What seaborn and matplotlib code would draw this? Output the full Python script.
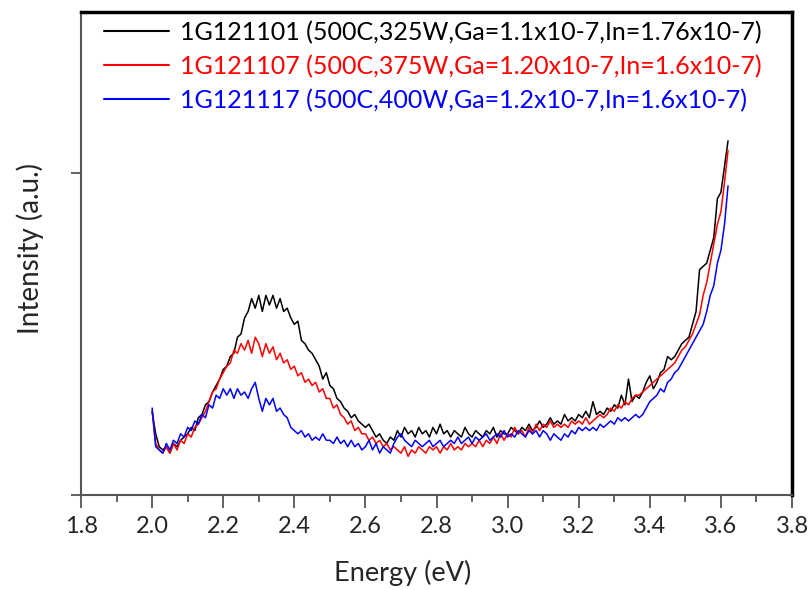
import numpy as np
import pandas as pd
import matplotlib
matplotlib.use("Agg")
import matplotlib.pyplot as plt
from matplotlib.ticker import MultipleLocator
import seaborn as sns

# Energy grid (eV), 2.00 .. 3.62 in 0.01 steps
energy = [round(2.00 + 0.01 * i, 2) for i in range(163)]

labels = [
    "1G121101 (500C,325W,Ga=1.1x10-7,In=1.76x10-7)",
    "1G121107 (500C,375W,Ga=1.20x10-7,In=1.6x10-7)",
    "1G121117 (500C,400W,Ga=1.2x10-7,In=1.6x10-7)",
]
colors = ["#000000", "#ff0000", "#0000ff"]

black = [
    0.26, 0.19, 0.15, 0.14, 0.15, 0.13, 0.16, 0.15, 0.17, 0.18,
    0.19, 0.21, 0.20, 0.24, 0.25, 0.28, 0.29, 0.32, 0.34, 0.36,
    0.39, 0.40, 0.43, 0.44, 0.49, 0.50, 0.55, 0.57, 0.61, 0.58,
    0.62, 0.57, 0.62, 0.59, 0.62, 0.58, 0.61, 0.57, 0.58, 0.55,
    0.53, 0.54, 0.48, 0.47, 0.45, 0.44, 0.42, 0.40, 0.36, 0.38,
    0.34, 0.33, 0.30, 0.29, 0.27, 0.26, 0.24, 0.25, 0.23, 0.22,
    0.21, 0.22, 0.20, 0.18, 0.19, 0.17, 0.16, 0.18, 0.17, 0.20,
    0.18, 0.21, 0.19, 0.20, 0.18, 0.21, 0.19, 0.20, 0.18, 0.21,
    0.19, 0.22, 0.19, 0.20, 0.18, 0.20, 0.19, 0.18, 0.21, 0.19,
    0.18, 0.20, 0.19, 0.18, 0.20, 0.19, 0.21, 0.18, 0.20, 0.19,
    0.19, 0.21, 0.20, 0.19, 0.21, 0.20, 0.22, 0.20, 0.21, 0.23,
    0.21, 0.22, 0.24, 0.22, 0.23, 0.22, 0.25, 0.23, 0.24, 0.23,
    0.25, 0.24, 0.26, 0.24, 0.29, 0.25, 0.26, 0.25, 0.27, 0.26,
    0.28, 0.27, 0.31, 0.28, 0.36, 0.29, 0.31, 0.30, 0.32, 0.35,
    0.37, 0.33, 0.35, 0.38, 0.39, 0.43, 0.42, 0.43, 0.45, 0.47,
    0.48, 0.49, 0.53, 0.57, 0.70, 0.71, 0.72, 0.76, 0.80, 0.92,
    0.94, 1.02, 1.10,
]

red = [
    0.26, 0.16, 0.14, 0.13, 0.15, 0.13, 0.16, 0.14, 0.17, 0.16,
    0.19, 0.18, 0.21, 0.22, 0.24, 0.26, 0.29, 0.32, 0.33, 0.36,
    0.38, 0.40, 0.41, 0.45, 0.44, 0.47, 0.45, 0.48, 0.44, 0.49,
    0.47, 0.43, 0.47, 0.44, 0.46, 0.42, 0.44, 0.41, 0.42, 0.39,
    0.40, 0.37, 0.38, 0.35, 0.36, 0.34, 0.35, 0.32, 0.33, 0.30,
    0.30, 0.27, 0.28, 0.25, 0.24, 0.22, 0.23, 0.20, 0.21, 0.19,
    0.19, 0.17, 0.18, 0.16, 0.17, 0.15, 0.16, 0.14, 0.15, 0.14,
    0.13, 0.15, 0.12, 0.14, 0.13, 0.15, 0.14, 0.13, 0.15, 0.14,
    0.15, 0.13, 0.15, 0.14, 0.16, 0.14, 0.15, 0.14, 0.16, 0.15,
    0.16, 0.15, 0.17, 0.15, 0.17, 0.16, 0.18, 0.16, 0.19, 0.17,
    0.19, 0.18, 0.21, 0.19, 0.20, 0.18, 0.21, 0.19, 0.22, 0.20,
    0.22, 0.21, 0.23, 0.21, 0.22, 0.21, 0.22, 0.21, 0.23, 0.22,
    0.23, 0.22, 0.24, 0.22, 0.23, 0.24, 0.25, 0.24, 0.25, 0.27,
    0.26, 0.28, 0.27, 0.29, 0.28, 0.30, 0.31, 0.31, 0.32, 0.33,
    0.34, 0.35, 0.36, 0.37, 0.38, 0.39, 0.40, 0.41, 0.43, 0.45,
    0.46, 0.48, 0.50, 0.53, 0.56, 0.62, 0.66, 0.72, 0.78, 0.84,
    0.88, 0.97, 1.07,
]

blue = [
    0.27, 0.15, 0.14, 0.13, 0.16, 0.14, 0.17, 0.16, 0.19, 0.18,
    0.21, 0.20, 0.23, 0.22, 0.25, 0.24, 0.28, 0.27, 0.31, 0.30,
    0.33, 0.31, 0.33, 0.30, 0.33, 0.31, 0.32, 0.30, 0.33, 0.35,
    0.30, 0.26, 0.30, 0.28, 0.30, 0.26, 0.27, 0.25, 0.24, 0.21,
    0.20, 0.19, 0.20, 0.18, 0.19, 0.17, 0.18, 0.17, 0.19, 0.17,
    0.17, 0.16, 0.18, 0.16, 0.17, 0.15, 0.17, 0.15, 0.16, 0.14,
    0.15, 0.17, 0.14, 0.16, 0.13, 0.15, 0.14, 0.13, 0.16, 0.18,
    0.19, 0.17, 0.16, 0.15, 0.17, 0.16, 0.15, 0.16, 0.17, 0.15,
    0.16, 0.17, 0.15, 0.16, 0.17, 0.16, 0.18, 0.16, 0.17, 0.18,
    0.16, 0.18, 0.17, 0.18, 0.19, 0.17, 0.18, 0.19, 0.18, 0.20,
    0.18, 0.19, 0.18, 0.20, 0.19, 0.18, 0.20, 0.19, 0.20, 0.18,
    0.20, 0.19, 0.17, 0.19, 0.18, 0.17, 0.19, 0.18, 0.20, 0.19,
    0.21, 0.20, 0.21, 0.20, 0.21, 0.20, 0.22, 0.21, 0.22, 0.23,
    0.22, 0.24, 0.23, 0.24, 0.23, 0.24, 0.25, 0.24, 0.25, 0.27,
    0.29, 0.30, 0.31, 0.33, 0.32, 0.35, 0.36, 0.38, 0.39, 0.41,
    0.43, 0.45, 0.47, 0.49, 0.51, 0.53, 0.57, 0.62, 0.65, 0.72,
    0.76, 0.84, 0.96,
]

xticks = [1.8, 2.0, 2.2, 2.4, 2.6, 2.8, 3.0, 3.2, 3.4, 3.6, 3.8]

df = pd.concat([
    pd.DataFrame({"Energy": energy, "Intensity": vals, "Sample": lab})
    for vals, lab in zip([black, red, blue], labels)
], ignore_index=True)

sns.set_style("ticks")
plt.rcParams["font.family"] = ["Lato", "DejaVu Sans"]

fig = plt.figure(figsize=(8.11, 5.90), dpi=100)
ax = fig.add_axes([0.0999, 0.161, 0.8767, 0.8187])

sns.lineplot(data=df, x="Energy", y="Intensity", hue="Sample",
             palette=dict(zip(labels, colors)), linewidth=1.1, ax=ax,
             sort=False, estimator=None)

ax.set_xlim(1.8, 3.8)
ax.set_ylim(0, 1.5)
ax.set_xticks(xticks)
ax.set_xticklabels([f"{t:.1f}" for t in xticks])
ax.xaxis.set_minor_locator(MultipleLocator(0.1))
ax.set_yticks([0, 1])
ax.set_yticklabels([])

ax.tick_params(axis="x", which="major", direction="out", length=9, width=1.3,
               color="#555555", labelsize=17, pad=6)
ax.tick_params(axis="x", which="minor", direction="out", length=5, width=1.3,
               color="#555555")
ax.tick_params(axis="y", which="major", direction="out", length=7, width=1.3,
               color="#555555")

for side in ["left", "bottom"]:
    ax.spines[side].set_color("#555555")
    ax.spines[side].set_linewidth(1.5)
for side in ["top", "right"]:
    ax.spines[side].set_visible(True)
    ax.spines[side].set_color("black")
    ax.spines[side].set_linewidth(2.5)

ax.set_xlabel("Energy (eV)", fontsize=19.5)
ax.xaxis.set_label_coords(0.453, -0.134)
ax.set_ylabel("Intensity (a.u.)", fontsize=20)
ax.yaxis.set_label_coords(-0.052, 0.51)

leg = ax.legend(loc="upper left", bbox_to_anchor=(0.0, 1.028), frameon=False,
                fontsize=18, handlelength=2.6, handletextpad=0.45,
                labelspacing=0.42, labelcolor="linecolor", title=None)
for line in leg.get_lines():
    line.set_linewidth(1.5)

fig.savefig("out.png", dpi=100)
